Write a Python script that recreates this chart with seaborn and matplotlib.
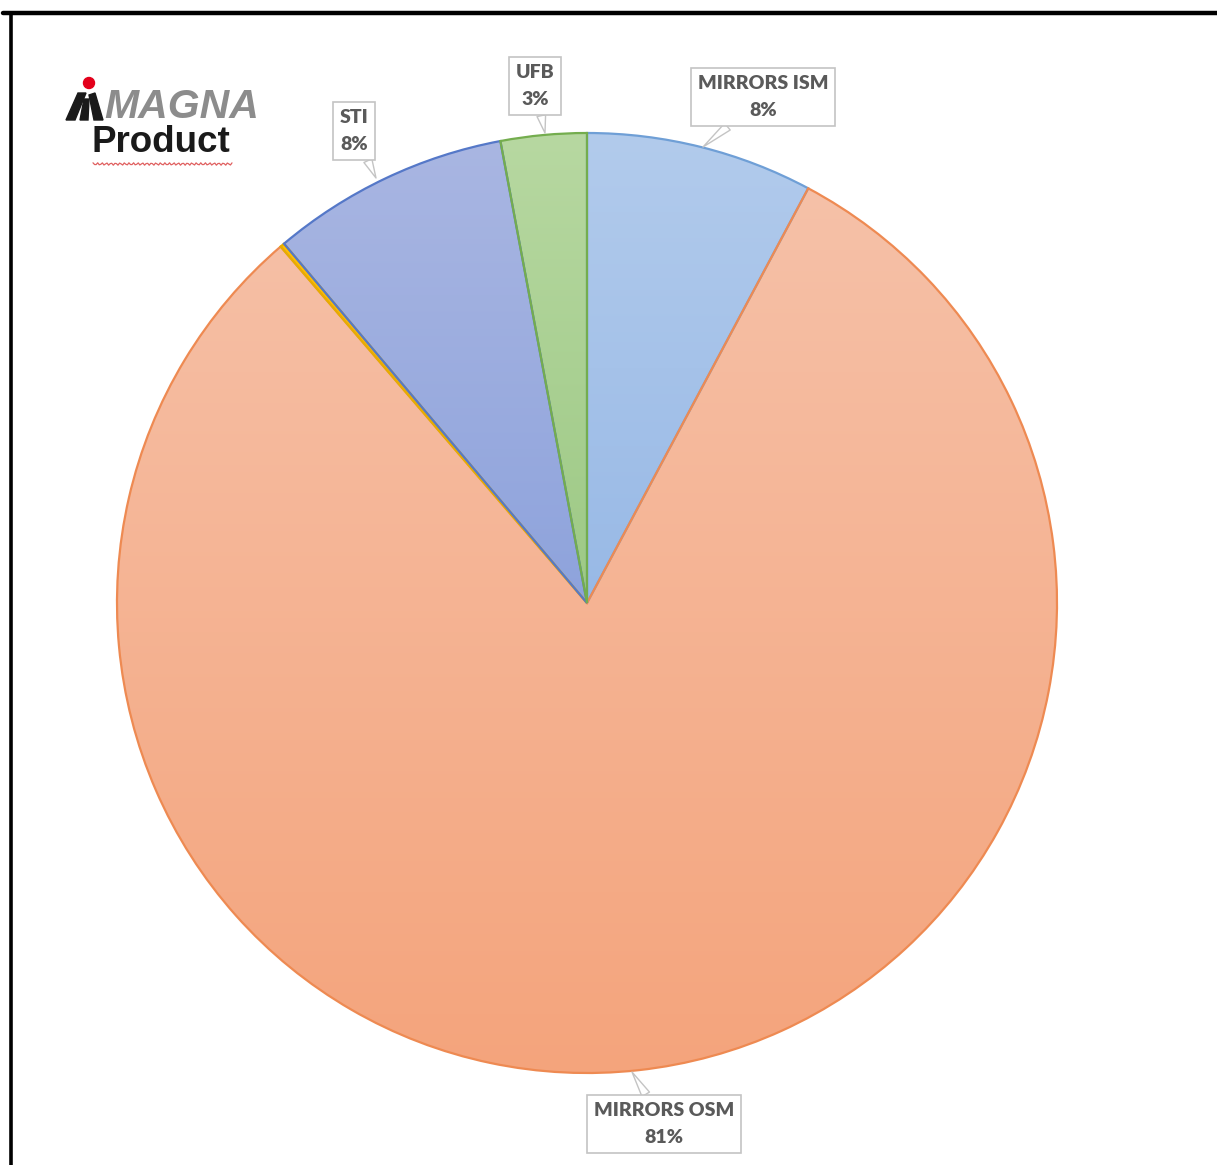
import numpy as np
import matplotlib
matplotlib.use("Agg")
import matplotlib.pyplot as plt
import seaborn as sns
from matplotlib.colors import LinearSegmentedColormap
from matplotlib.patches import Polygon, Circle
from matplotlib.lines import Line2D

# data
categories = ["MIRRORS ISM", "MIRRORS OSM", "OTHER", "STI", "UFB"]
shares = [7.8, 80.9, 0.15, 8.2, 2.95]
show_label = [True, True, False, True, True]

# styling (Excel-like gradient fills + darker outlines)
grad_top = ["#b2cbec", "#f6c1a8", "#ffc000", "#a9b6e2", "#b7d8a1"]
grad_bottom = ["#98b9e6", "#f4a47c", "#ffc000", "#8ea3dc", "#9dc985"]
edge_cols = ["#6f9fd6", "#ee8a52", "#e6ad00", "#5578c8", "#74ad4e"]
label_pos = {
    "MIRRORS ISM": (763, 97),
    "MIRRORS OSM": (664, 1124),
    "STI": (354, 131),
    "UFB": (535, 86),
}
label_tip = {
    "MIRRORS ISM": (703, 147),
    "MIRRORS OSM": (632, 1072),
    "STI": (376, 178),
    "UFB": (545, 133),
}

W, H = 1217, 1165
CX, CY, R = 587, 603, 470

sns.set_theme(style="white")
plt.rcParams["font.family"] = ["Lato", "DejaVu Sans"]

fig = plt.figure(figsize=(W / 100, H / 100), dpi=100)
ax = fig.add_axes([0, 0, 1, 1])

wedges, _ = ax.pie(shares, startangle=-90, counterclock=True, radius=R,
                   center=(CX, CY), colors=grad_top,
                   wedgeprops=dict(linewidth=1.6))

# vertical gradient inside each slice
for w, ct, cb, ec in zip(wedges, grad_top, grad_bottom, edge_cols):
    verts = w.get_path().vertices
    x0, x1 = verts[:, 0].min(), verts[:, 0].max()
    y0, y1 = verts[:, 1].min(), verts[:, 1].max()
    cmap = LinearSegmentedColormap.from_list("g", [ct, cb])
    im = ax.imshow(np.linspace(0, 1, 256).reshape(-1, 1), cmap=cmap,
                   extent=(x0, x1, y1, y0), origin="upper", aspect="auto",
                   zorder=1)
    im.set_clip_path(w)
    w.set_facecolor("none")
    w.set_edgecolor(ec)
    w.set_zorder(2)
ax.set_xlim(0, W)
ax.set_ylim(H, 0)
ax.set_aspect("equal")
ax.axis("off")

total = sum(shares)
for cat, val, show in zip(categories, shares, show_label):
    if not show:
        continue
    pct = round(val / total * 100)
    ax.annotate(f"{cat}\n{pct}%", xy=label_tip[cat], xytext=label_pos[cat],
                ha="center", va="center", fontsize=14, fontweight="heavy",
                color="#5a5a5a", linespacing=1.75, zorder=5,
                bbox=dict(boxstyle="square,pad=0.35", fc="white",
                          ec="#c4c4c4", lw=1.2),
                arrowprops=dict(arrowstyle="wedge,tail_width=0.45",
                                fc="white", ec="#c4c4c4", lw=1.0,
                                shrinkA=0, shrinkB=0))

# logo block
ax.add_patch(Circle((89, 83), 5.5, color="#e3001b", zorder=6))
for pts in ([(66, 120), (78, 93), (86, 93), (75, 120)],
            [(80, 120), (84, 99), (89, 99), (88, 120)],
            [(89, 95), (95, 93), (103, 120), (94, 120)]):
    ax.add_patch(Polygon(pts, closed=True, color="#1a1a1a", zorder=6))
ax.text(104, 107, "MAGNA", fontsize=29.5, fontweight="bold", fontstyle="italic",
        color="#8c8c8c", family=["Liberation Sans", "DejaVu Sans"],
        ha="left", va="center")
ax.text(92, 143, "Product", fontsize=26.5, fontweight="bold", color="#1a1a1a",
        family=["Liberation Sans", "DejaVu Sans"], ha="left", va="center")
wx = np.linspace(93, 232, 90)
ax.plot(wx, 164 + 1.2 * np.sin(wx * 1.4), color="#e06060", lw=0.9)

# frame lines from the screenshot
fig.add_artist(Line2D([3 / W, 1], [1 - 13 / H, 1 - 13 / H], color="black",
                      lw=3.2, transform=fig.transFigure))
fig.add_artist(Line2D([10.5 / W, 10.5 / W], [0, 1 - 13 / H], color="black",
                      lw=2.6, transform=fig.transFigure))

fig.savefig("out.png", dpi=100, facecolor="white")
